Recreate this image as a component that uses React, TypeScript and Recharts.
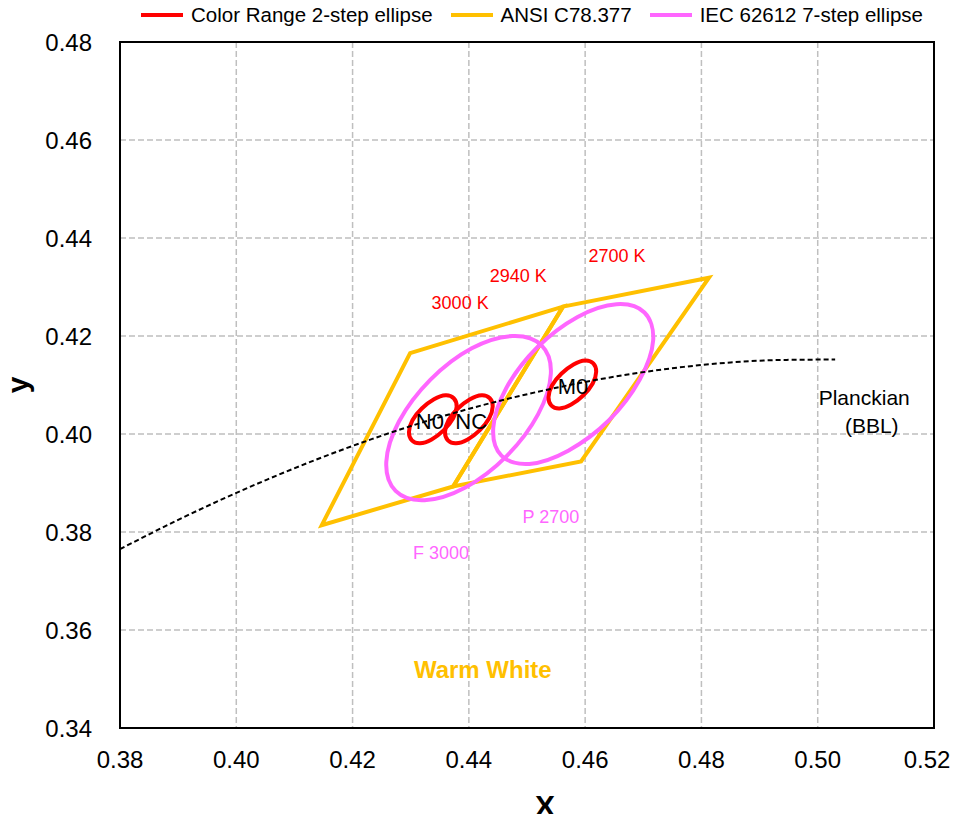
import React from 'react'
import {
  ScatterChart,
  Scatter,
  XAxis,
  YAxis,
  CartesianGrid,
  ReferenceArea,
  ReferenceDot,
} from 'recharts'

const RED = '#ff0000'
const GOLD = '#ffc000'
const PINK = '#ff66ff'
const FONT = '"Liberation Sans", Arial, sans-serif'

const xTicks = [0.38, 0.4, 0.42, 0.44, 0.46, 0.48, 0.5, 0.52]
const yTicks = [0.34, 0.36, 0.38, 0.4, 0.42, 0.44, 0.46, 0.48]

// ANSI C78.377 quadrangles
const ansi3000X = [0.4299, 0.4562, 0.4373, 0.4147]
const ansi3000Y = [0.4165, 0.426, 0.3893, 0.3814]
const ansi2700X = [0.4562, 0.4813, 0.4593, 0.4373]
const ansi2700Y = [0.426, 0.4319, 0.3944, 0.3893]

// IEC 62612 7-step ellipses (outline points)
const f3000X = [0.4525, 0.4541, 0.4519, 0.4465, 0.4394, 0.4324, 0.4274, 0.4258, 0.428, 0.4334, 0.4405, 0.4475]
const f3000Y = [0.4181, 0.4123, 0.404, 0.3955, 0.3891, 0.3865, 0.3884, 0.3943, 0.4026, 0.4111, 0.4175, 0.42]
const p2700X = [0.4702, 0.4717, 0.4694, 0.4641, 0.4571, 0.4504, 0.4456, 0.4442, 0.4464, 0.4517, 0.4587, 0.4654]
const p2700Y = [0.4248, 0.4191, 0.4111, 0.4028, 0.3966, 0.3939, 0.3956, 0.4013, 0.4093, 0.4176, 0.4239, 0.4265]

// Color Range 2-step ellipses
const n0X = [0.4374, 0.4379, 0.4373, 0.4357, 0.4336, 0.4316, 0.4302, 0.4297, 0.4303, 0.4319, 0.434, 0.436]
const n0Y = [0.4073, 0.4056, 0.4032, 0.4008, 0.3989, 0.3981, 0.3987, 0.4004, 0.4028, 0.4052, 0.4071, 0.4079]
const ncX = [0.4436, 0.4441, 0.4435, 0.4419, 0.4398, 0.4378, 0.4364, 0.4359, 0.4365, 0.4381, 0.4402, 0.4422]
const ncY = [0.4073, 0.4056, 0.4032, 0.4008, 0.3989, 0.3981, 0.3987, 0.4004, 0.4028, 0.4052, 0.4071, 0.4079]
const m0X = [0.4614, 0.4619, 0.4613, 0.4597, 0.4576, 0.4556, 0.4542, 0.4537, 0.4543, 0.4559, 0.458, 0.46]
const m0Y = [0.4144, 0.4127, 0.4103, 0.4079, 0.406, 0.4052, 0.4058, 0.4075, 0.4099, 0.4123, 0.4142, 0.415]

// Planckian locus (BBL)
const planckX = [0.38, 0.3897, 0.4053, 0.4234, 0.4369, 0.4518, 0.4599, 0.477, 0.485, 0.4934, 0.503]
const planckY = [0.3765, 0.3823, 0.3907, 0.399, 0.4041, 0.4086, 0.4106, 0.4137, 0.4146, 0.4151, 0.4152]

// text annotations (data coordinates)
const cctNotes = [
  { text: '3000 K', x: 0.4385, y: 0.4269 },
  { text: '2940 K', x: 0.4485, y: 0.4324 },
  { text: '2700 K', x: 0.4655, y: 0.4365 },
]
const binNotes = [
  { text: 'N0', x: 0.4333, y: 0.4027 },
  { text: 'NC', x: 0.4404, y: 0.4027 },
  { text: 'M0', x: 0.4579, y: 0.4098 },
]
const iecNotes = [
  { text: 'P 2700', x: 0.4541, y: 0.3831 },
  { text: 'F 3000', x: 0.4352, y: 0.3757 },
]
const bblNotes = [
  { text: 'Planckian', x: 0.508, y: 0.4074 },
  { text: '(BBL)', x: 0.5093, y: 0.4017 },
]
const zoneNote = { text: 'Warm White', x: 0.4424, y: 0.3519 }

const legendItems = [
  { name: 'Color Range 2-step ellipse', color: RED },
  { name: 'ANSI C78.377', color: GOLD },
  { name: 'IEC 62612 7-step ellipse', color: PINK },
]

const pts = (xs: number[], ys: number[]) => xs.map((x, i) => ({ x, y: ys[i] }))

// closed smooth curve through every point (Catmull-Rom)
const closedSmooth = (context: any) => {
  let p: number[][] = []
  return {
    areaStart() {},
    areaEnd() {},
    lineStart() {
      p = []
    },
    point(x: number, y: number) {
      p.push([+x, +y])
    },
    lineEnd() {
      const n = p.length
      if (!n) return
      context.moveTo(p[0][0], p[0][1])
      for (let i = 0; i < n; i++) {
        const p0 = p[(i - 1 + n) % n]
        const p1 = p[i]
        const p2 = p[(i + 1) % n]
        const p3 = p[(i + 2) % n]
        context.bezierCurveTo(
          p1[0] + (p2[0] - p0[0]) / 6,
          p1[1] + (p2[1] - p0[1]) / 6,
          p2[0] - (p3[0] - p1[0]) / 6,
          p2[1] - (p3[1] - p1[1]) / 6,
          p2[0],
          p2[1]
        )
      }
      context.closePath()
    },
  }
}

const noDot = () => <g />

// x tick: the last label is nudged left so it stays on the page
const XTick = (props: any) => {
  const { x, y, payload, index } = props
  const last = index === xTicks.length - 1
  return (
    <text x={x} y={y} dy="0.71em" dx={last ? -7 : 0} textAnchor="middle" fontSize={24} fill="#000">
      {Number(payload.value).toFixed(2)}
    </text>
  )
}

export default function App() {
  const shapes = [
    { key: 'a3000', data: pts(ansi3000X, ansi3000Y), color: GOLD, type: 'linearClosed' },
    { key: 'a2700', data: pts(ansi2700X, ansi2700Y), color: GOLD, type: 'linearClosed' },
    { key: 'f3000', data: pts(f3000X, f3000Y), color: PINK, type: closedSmooth },
    { key: 'p2700', data: pts(p2700X, p2700Y), color: PINK, type: closedSmooth },
    { key: 'n0', data: pts(n0X, n0Y), color: RED, type: closedSmooth },
    { key: 'nc', data: pts(ncX, ncY), color: RED, type: closedSmooth },
    { key: 'm0', data: pts(m0X, m0Y), color: RED, type: closedSmooth },
  ]

  const note = (n: { text: string; x: number; y: number }, color: string, size: number, bold = false) => (
    <ReferenceDot
      key={n.text}
      x={n.x}
      y={n.y}
      r={0}
      fill="none"
      stroke="none"
      label={{
        value: n.text,
        position: 'center',
        fill: color,
        fontSize: size,
        fontWeight: bold ? 700 : 400,
        fontFamily: FONT,
      }}
    />
  )

  return (
    <div style={{ position: 'relative', width: 950, height: 814, marginBottom: -8, fontFamily: FONT }}>
      <style>{'html{overflow:hidden}svg.recharts-surface{overflow:visible !important}'}</style>
      <div
        style={{
          position: 'absolute',
          top: -4,
          left: 133,
          height: 22,
          display: 'flex',
          alignItems: 'center',
          fontSize: 20.5,
          whiteSpace: 'nowrap',
          color: '#000',
        }}
      >
        {legendItems.map((it) => (
          <div key={it.name} style={{ display: 'flex', alignItems: 'center', marginRight: 18 }}>
            <span style={{ display: 'inline-block', width: 42, height: 4, background: it.color, marginRight: 8 }} />
            <span>{it.name}</span>
          </div>
        ))}
      </div>
      <ScatterChart
        width={950}
        height={814}
        margin={{ top: 34, right: 24, left: 0, bottom: 0 }}
        style={{ fontFamily: FONT }}
      >
        <CartesianGrid stroke="#bfbfbf" strokeWidth={1.5} strokeDasharray="6 3" />
        <XAxis
          type="number"
          dataKey="x"
          domain={[0.38, 0.52]}
          ticks={xTicks}
          interval={0}
          allowDataOverflow
          tick={<XTick />}
          tickLine={false}
          tickSize={0}
          tickMargin={23}
          axisLine={{ stroke: '#000', strokeWidth: 2 }}
          height={94}
          label={{ value: 'X', position: 'insideBottom', offset: 6, dx: 18, fontSize: 30, fontWeight: 700, fill: '#000' }}
        />
        <YAxis
          type="number"
          dataKey="y"
          domain={[0.34, 0.48]}
          ticks={yTicks}
          interval={0}
          allowDataOverflow
          tickFormatter={(v: number) => v.toFixed(2)}
          tick={{ fontSize: 24, fill: '#000' }}
          tickLine={false}
          tickSize={0}
          tickMargin={28}
          axisLine={{ stroke: '#000', strokeWidth: 2 }}
          width={112}
          label={{
            value: 'y',
            angle: -90,
            position: 'insideLeft',
            offset: 9,
            fontSize: 30,
            fontWeight: 700,
            fill: '#000',
            style: { textAnchor: 'middle' },
          }}
        />
        <ReferenceArea x1={0.38} x2={0.52} y1={0.34} y2={0.48} fill="none" fillOpacity={0} stroke="#000" strokeWidth={2} />
        {shapes.map((s) => (
          <Scatter
            key={s.key}
            data={s.data}
            fill={s.color}
            line={{ stroke: s.color, strokeWidth: 4 }}
            lineJointType={s.type}
            shape={noDot}
            isAnimationActive={false}
          />
        ))}
        <Scatter
          data={pts(planckX, planckY)}
          fill="#000"
          line={{ stroke: '#000', strokeWidth: 2, strokeDasharray: '5 3' }}
          lineJointType="monotone"
          shape={noDot}
          isAnimationActive={false}
        />
        {cctNotes.map((n) => note(n, RED, 18))}
        {binNotes.map((n) => note(n, '#000', 22))}
        {iecNotes.map((n) => note(n, PINK, 18))}
        {bblNotes.map((n) => note(n, '#000', 21))}
        {note(zoneNote, GOLD, 24, true)}
      </ScatterChart>
    </div>
  )
}
